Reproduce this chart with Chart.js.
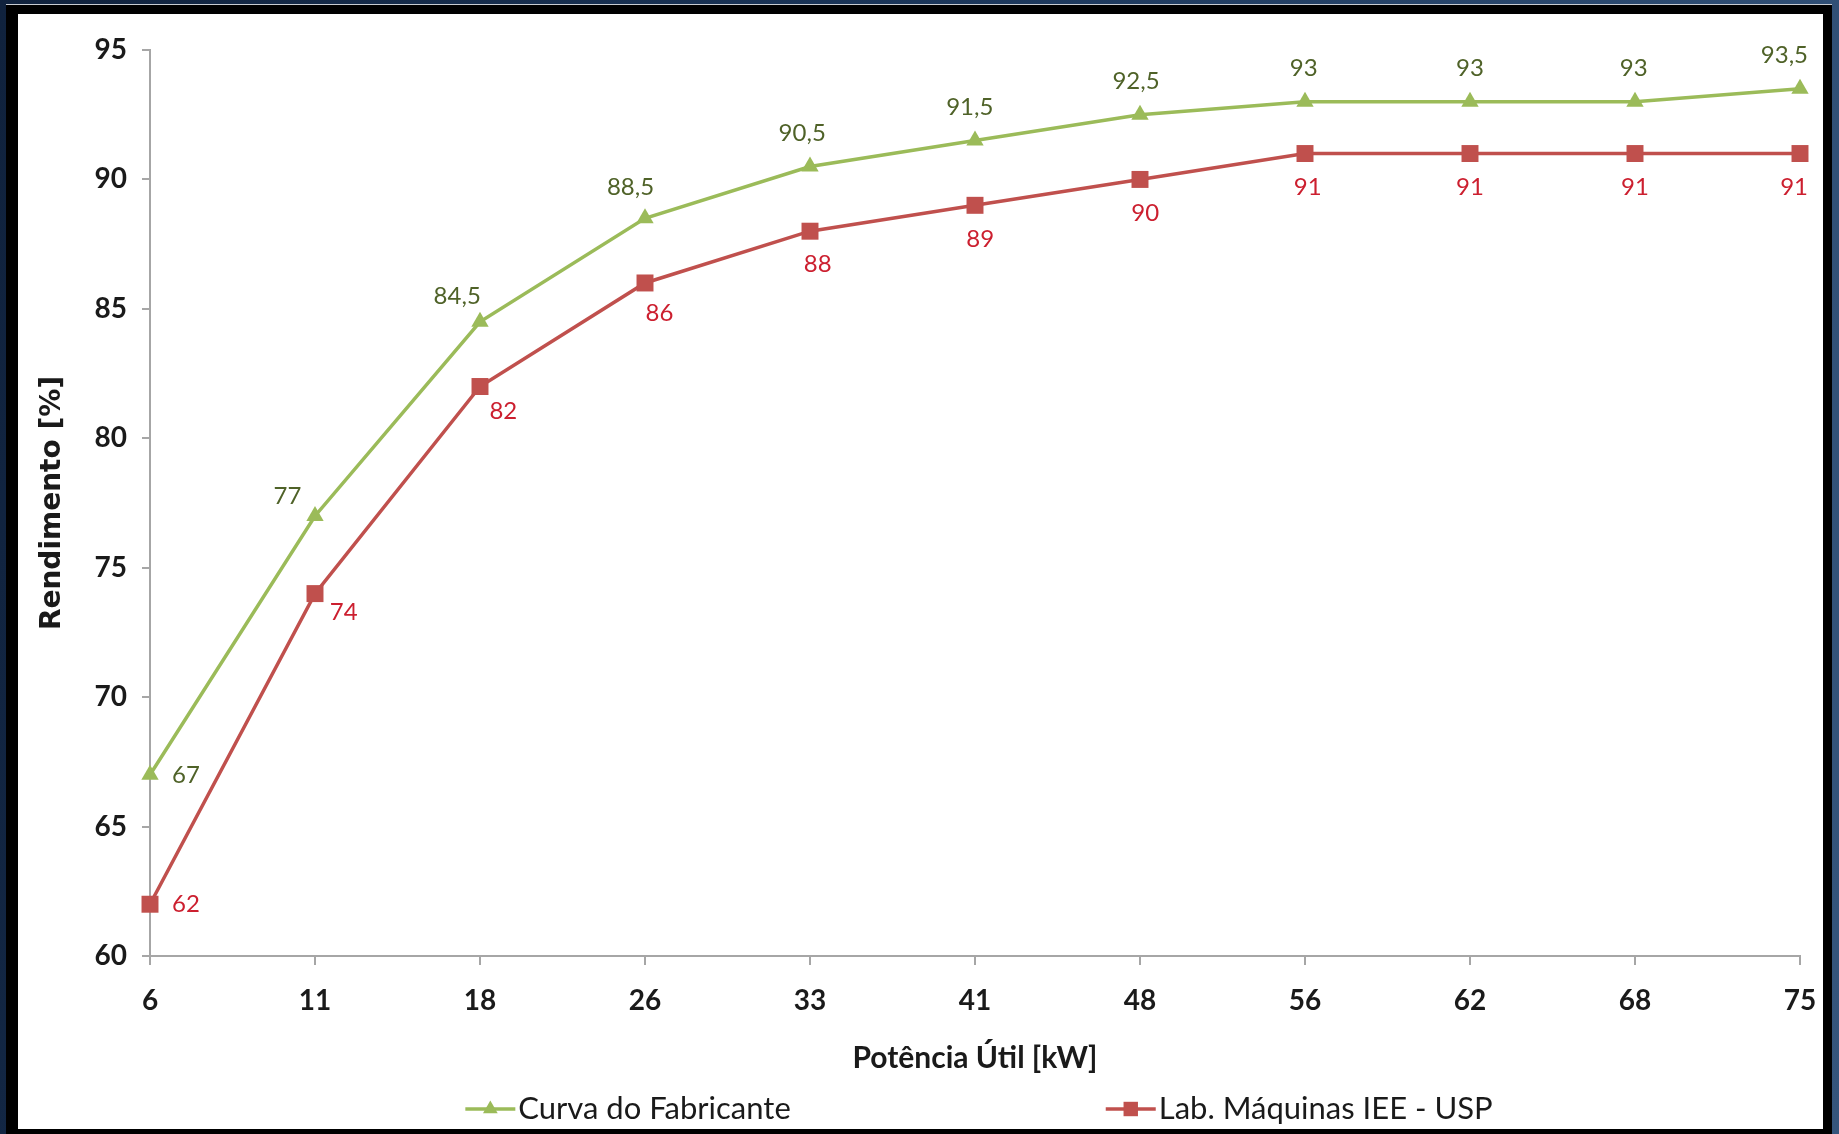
<!DOCTYPE html>
<html>
<head>
<meta charset="utf-8">
<script src="https://cdn.jsdelivr.net/npm/chart.js@4.4.0/dist/chart.umd.min.js"></script>
<style>
  html, body { margin: 0; padding: 0; }
  body {
    width: 1839px; height: 1134px; overflow: hidden; position: relative;
    background: linear-gradient(100deg, #10223d 0%, #1b365a 45%, #35557c 100%);
  }
  #frame {
    position: absolute; left: 6px; top: 4px; width: 1826px; height: 1130px;
    background: #000; border-top: 1px solid #c8ccd2; box-sizing: border-box;
  }
  #panel { position: absolute; left: 18px; top: 14px; width: 1805px; height: 1115px; background: #fff; }
  canvas { display: block; }
</style>
</head>
<body>
<div id="frame"></div>
<div id="panel"><canvas id="myChart" width="1805" height="1115"></canvas></div>
<script>
'use strict';
// values
let potencia = ['6', '11', '18', '26', '33', '41', '48', '56', '62', '68', '75'];
let curvaFabricante = [67, 77, 84.5, 88.5, 90.5, 91.5, 92.5, 93, 93, 93, 93.5];
let labMaquinas = [62, 74, 82, 86, 88, 89, 90, 91, 91, 91, 91];
let yTicks = [60, 65, 70, 75, 80, 85, 90, 95];
let seriesNames = ['Curva do Fabricante', 'Lab. Máquinas IEE - USP'];

let chartEl = document.getElementById('myChart');
let ctx = chartEl.getContext('2d');

// value labels, pushed away from the line (green above, red below)
const valueLabels = {
  id: 'valueLabels',
  afterDatasetsDraw(chart) {
    const c = chart.ctx;
    const area = chart.chartArea;
    chart.data.datasets.forEach((ds, di) => {
      const pts = chart.getDatasetMeta(di).data;
      c.save();
      c.font = '24px Lato';
      c.fillStyle = ds.labelColor;
      c.textAlign = 'center';
      c.textBaseline = 'middle';
      pts.forEach((pt, i) => {
        const text = String(ds.data[i]).replace('.', ',');
        const w = c.measureText(text).width;
        let x, y;
        if (i === 0) {
          x = pt.x + 36;
          y = pt.y;
        } else {
          const prev = pts[i - 1];
          const next = pts[i + 1] || pt;
          const dx = next.x - prev.x;
          const dy = next.y - prev.y;
          const len = Math.hypot(dx, dy);
          let nx = dy / len, ny = -dx / len;
          if (ds.labelSide < 0) { nx = -nx; ny = -ny; }
          x = pt.x + nx * 34;
          y = pt.y + ny * 34;
        }
        if (x + w / 2 > area.right + 8) x = area.right + 8 - w / 2;
        c.fillText(text, x, y);
      });
      c.restore();
    });
  }
};

// excel style legend: line with marker, items spread apart
const bottomLegend = {
  id: 'bottomLegend',
  afterDraw(chart, args, opts) {
    const c = chart.ctx;
    c.save();
    c.font = opts.font;
    const items = chart.data.datasets.map(ds => ({
      ds: ds,
      w: opts.lineLength + opts.textGap + c.measureText(ds.label).width
    }));
    const total = items.reduce((s, it) => s + it.w, 0) + opts.gap * (items.length - 1);
    const area = chart.chartArea;
    let x = (area.left + area.right) / 2 - total / 2 + opts.shiftX;
    const y = chart.scales.x.bottom + opts.offsetY;
    items.forEach(it => {
      const ds = it.ds;
      c.strokeStyle = ds.borderColor;
      c.lineWidth = ds.borderWidth;
      c.beginPath();
      c.moveTo(x, y);
      c.lineTo(x + opts.lineLength, y);
      c.stroke();
      c.fillStyle = ds.backgroundColor;
      Chart.helpers.drawPoint(c, { pointStyle: ds.pointStyle, radius: ds.pointRadius * 0.85, borderWidth: 0, rotation: 0 }, x + opts.lineLength / 2, y);
      c.fillStyle = opts.color;
      c.textAlign = 'left';
      c.textBaseline = 'middle';
      c.fillText(ds.label, x + opts.lineLength + opts.textGap, y);
      x += it.w + opts.gap;
    });
    c.restore();
  }
};

const axisColor = '#a6a6a6';
const textColor = '#1a1a1a';

new Chart(ctx, {
  type: 'line',
  data: {
    labels: potencia,
    datasets: [{
      label: seriesNames[0],
      data: curvaFabricante,
      borderColor: '#9bbb59',
      backgroundColor: '#9bbb59',
      borderWidth: 3.5,
      pointStyle: 'triangle',
      pointRadius: 10,
      pointHoverRadius: 10,
      pointBorderWidth: 0,
      labelColor: '#4f6228',
      labelSide: 1
    }, {
      label: seriesNames[1],
      data: labMaquinas,
      borderColor: '#c0504d',
      backgroundColor: '#c0504d',
      borderWidth: 3.5,
      pointStyle: 'rect',
      pointRadius: 12,
      pointHoverRadius: 12,
      pointBorderWidth: 0,
      labelColor: '#cc1f2f',
      labelSide: -1
    }]
  },
  options: {
    responsive: false,
    animation: false,
    layout: { padding: { top: 36, right: 23, bottom: 53, left: 0 } },
    plugins: {
      legend: { display: false },
      tooltip: { enabled: false },
      bottomLegend: { font: '31px Lato', color: textColor, lineLength: 50, textGap: 3, gap: 315, offsetY: 33, shiftX: 4 }
    },
    scales: {
      x: {
        type: 'category',
        offset: false,
        grid: { drawOnChartArea: false, drawTicks: true, tickLength: 9, color: axisColor, lineWidth: 2 },
        border: { color: axisColor, width: 2 },
        ticks: { font: { family: 'Lato', size: 28, weight: 'bold' }, color: textColor, padding: 19, maxRotation: 0, autoSkip: false },
        title: { display: true, text: 'Potência Útil [kW]', font: { family: 'Lato', size: 30, weight: 'bold' }, color: textColor, padding: 0 },
        afterFit(axis) {
          axis.height = 120;
          axis.paddingLeft = 0;
          axis.paddingRight = 0;
        }
      },
      y: {
        min: yTicks[0],
        max: yTicks[yTicks.length - 1],
        grid: { drawOnChartArea: false, drawTicks: true, tickLength: 8, color: axisColor, lineWidth: 2 },
        border: { color: axisColor, width: 2 },
        ticks: { stepSize: yTicks[1] - yTicks[0], font: { family: 'Lato', size: 28, weight: 'bold' }, color: textColor, padding: 15 },
        title: { display: true, text: 'Rendimento [%]', font: { family: 'DejaVu Sans', size: 28, weight: 'bold' }, color: textColor, padding: { top: 18 } },
        afterFit(axis) { axis.width = 132; }
      }
    }
  },
  plugins: [valueLabels, bottomLegend]
});
</script>
</body>
</html>
